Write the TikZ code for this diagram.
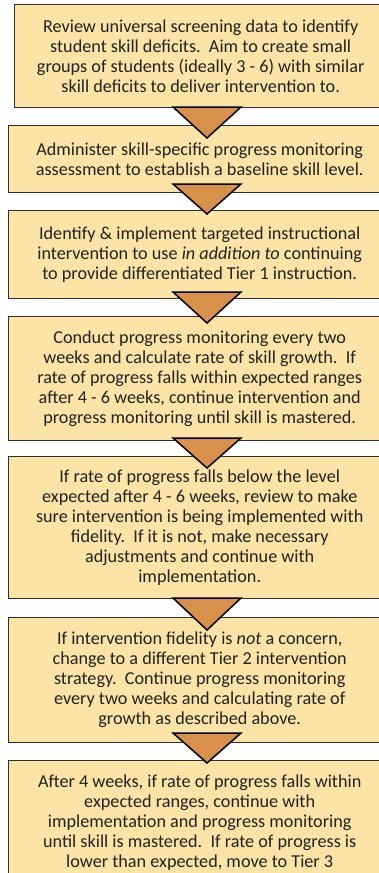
\documentclass[tikz,border=0pt]{standalone}
\usepackage{fontspec}
\setmainfont{Carlito}
\definecolor{boxfill}{HTML}{FBE4A6}
\definecolor{boxline}{HTML}{2E2E2E}
\definecolor{arrowfill}{HTML}{D8914A}
\definecolor{txt}{HTML}{222222}
\begin{document}
\begin{tikzpicture}[x=1pt,y=-1pt,
  stepbox/.style={draw=boxline, line width=1.4pt, fill=boxfill, anchor=north west,
    inner sep=0pt, text=txt, align=center, font=\fontsize{18.2}{20}\selectfont},
  downarrow/.style={draw=black, line width=1.5pt, fill=arrowfill, line join=miter}]
\useasboundingbox (0,0) rectangle (379,873);
\clip (0,0) rectangle (379,873);

% the seven steps, top to bottom
\node[stepbox, minimum width=372pt, minimum height=103pt] (s1) at (14,4)
  {Review universal screening data to identify\\student skill deficits.\ \ Aim to create small\\groups of students (ideally 3 - 6) with similar\\skill deficits to deliver intervention to.};
\node[stepbox, minimum width=382pt, minimum height=67pt] (s2) at (8,125)
  {Administer skill-specific progress monitoring\\assessment to establish a baseline skill level.};
\node[stepbox, minimum width=382pt, minimum height=88pt] (s3) at (8,210)
  {Identify \& implement targeted instructional\\intervention to use \emph{in addition to} continuing\\to provide differentiated Tier 1 instruction.};
\node[stepbox, minimum width=382pt, minimum height=124pt] (s4) at (8,316)
  {Conduct progress monitoring every two\\weeks and calculate rate of skill growth.\ \ If\\rate of progress falls within expected ranges\\after 4 - 6 weeks, continue intervention and\\progress monitoring until skill is mastered.};
\node[stepbox, minimum width=382pt, minimum height=142pt] (s5) at (8,456)
  {If rate of progress falls below the level\\expected after 4 - 6 weeks, review to make\\sure intervention is being implemented with\\fidelity.\ \ If it is not, make necessary\\adjustments and continue with\\implementation.};
\node[stepbox, minimum width=382pt, minimum height=125pt] (s6) at (8,617)
  {If intervention fidelity is \emph{not} a concern,\\change to a different Tier 2 intervention\\strategy.\ \ Continue progress monitoring\\every two weeks and calculating rate of\\growth as described above.};
\node[stepbox, minimum width=382pt, minimum height=124pt] (s7) at (8,760)
  {After 4 weeks, if rate of progress falls within\\expected ranges, continue with\\implementation and progress monitoring\\until skill is mastered.\ \ If rate of progress is\\lower than expected, move to Tier 3};

% downward arrowheads linking consecutive steps
\foreach \top/\tip in {107/138, 184/214, 292/323, 438/468, 598/630, 733/763}{
  \draw[downarrow] (173,\top) -- (241,\top) -- (207,\tip) -- cycle;
}
\end{tikzpicture}
\end{document}
